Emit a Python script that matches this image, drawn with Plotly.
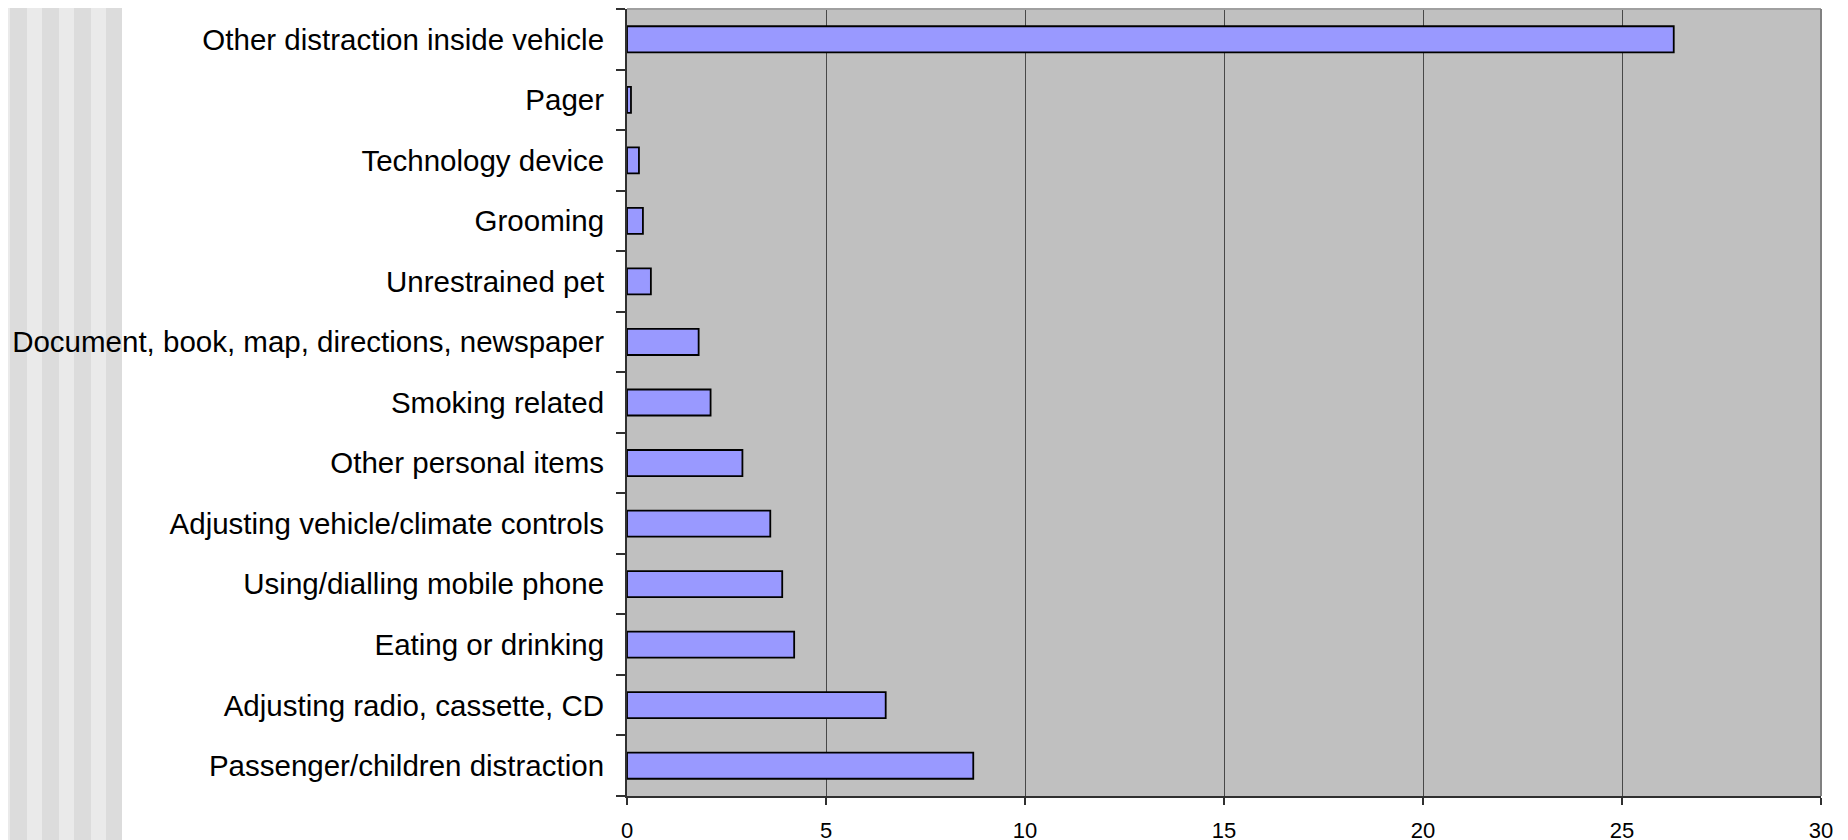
import plotly.graph_objects as go

categories = [
    "Passenger/children distraction",
    "Adjusting radio, cassette, CD",
    "Eating or drinking",
    "Using/dialling mobile phone",
    "Adjusting vehicle/climate controls",
    "Other personal items",
    "Smoking related",
    "Document, book, map, directions, newspaper",
    "Unrestrained pet",
    "Grooming",
    "Technology device",
    "Pager",
    "Other distraction inside vehicle",
]
values = [8.7, 6.5, 4.2, 3.9, 3.6, 2.9, 2.1, 1.8, 0.6, 0.4, 0.3, 0.1, 26.3]
x_ticks = [0, 5, 10, 15, 20, 25, 30]

W, H = 1848, 840
L, R, T, B = 619, 35, 1, 52
pw, ph = W - L - R, H - T - B
OFF = 8  # page body margin


def px2paper_x(px):
    return (px - OFF - L) / pw


def py2paper_y(py):
    return (H - B - (py - OFF)) / ph


fig = go.Figure()
fig.add_trace(go.Bar(
    x=values, y=categories, orientation="h",
    marker=dict(color="#9999FF", line=dict(color="#000000", width=1.8)),
    width=0.43,
    hoverinfo="x+y",
))

shapes = []
# decorative stripes on left edge (page pixel coordinates)
stripes = [(0, 10, "#EAEAEA"), (10, 27, "#DCDCDC"), (27, 42, "#EAEAEA"), (42, 59, "#DCDCDC"),
           (59, 74, "#EAEAEA"), (74, 91, "#DCDCDC"), (91, 106, "#EAEAEA"), (106, 122, "#DCDCDC")]
for a, b, c in stripes:
    shapes.append(dict(type="rect", xref="paper", yref="paper",
                       x0=px2paper_x(max(a, OFF)), x1=px2paper_x(b),
                       y0=py2paper_y(H + OFF), y1=py2paper_y(OFF),
                       fillcolor=c, line=dict(width=0), layer="below"))
# plot area top/right border
shapes.append(dict(type="line", xref="paper", yref="paper", x0=0, x1=1, y0=1, y1=1,
                   line=dict(color="#A0A0A0", width=2), layer="above"))
shapes.append(dict(type="line", xref="paper", yref="paper", x0=1, x1=1, y0=0, y1=1,
                   line=dict(color="#808080", width=2), layer="above"))

fig.update_layout(
    width=W, height=H,
    margin=dict(l=L, r=R, t=T, b=B, pad=0),
    paper_bgcolor="#FFFFFF",
    plot_bgcolor="#C0C0C0",
    showlegend=False,
    shapes=shapes,
    bargap=0.57,
    font=dict(family="Liberation Sans, Arial, sans-serif", color="#000000"),
    xaxis=dict(
        range=[0, 30], tickvals=x_ticks, ticktext=[str(v) for v in x_ticks],
        showgrid=True, gridcolor="#484848", gridwidth=1,
        zeroline=False,
        showline=True, linecolor="#303030", linewidth=2,
        ticks="outside", ticklen=7, tickcolor="#303030", tickwidth=1.5,
        ticklabelstandoff=7,
        tickfont=dict(size=22, color="#000000"),
        fixedrange=True,
    ),
    yaxis=dict(
        type="category", categoryorder="array", categoryarray=categories,
        range=[-0.5, 12.5],
        showgrid=False, zeroline=False,
        showline=True, linecolor="#303030", linewidth=2,
        ticks="outside", ticklen=9, tickcolor="#303030", tickwidth=1.5,
        tickson="boundaries",
        ticklabelstandoff=15,
        tickfont=dict(size=29.5, color="#000000"),
        fixedrange=True,
    ),
)

fig.write_html("out.html")
